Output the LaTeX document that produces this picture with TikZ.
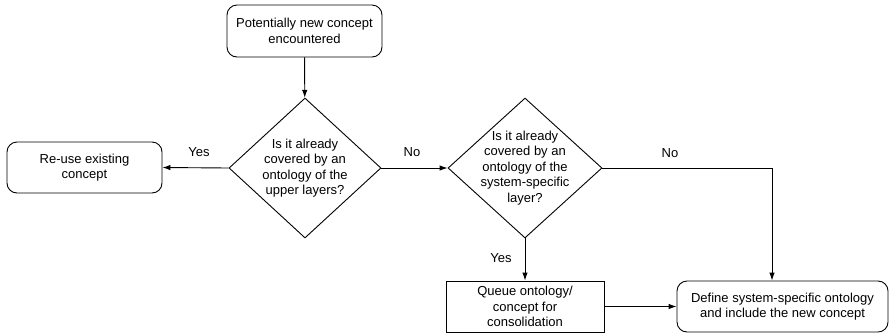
\documentclass[tikz,border=0pt]{standalone}
\usepackage{fontspec}
\setmainfont{Liberation Sans}
\usetikzlibrary{shapes.geometric,arrows.meta}
\begin{document}
\begin{tikzpicture}[x=1pt,y=-1pt,
  every node/.style={font=\fontsize{13}{15.5}\selectfont},
  rbox/.style={draw,rounded corners=10pt,line width=0.9pt,align=center,inner sep=0pt},
  sbox/.style={draw,line width=0.9pt,align=center,inner sep=0pt},
  dia/.style={draw,diamond,line width=0.9pt,inner sep=0pt},
  arr/.style={line width=0.9pt,-{Latex[length=8pt,width=5.5pt]}},
  lbl/.style={inner sep=0pt}]
\useasboundingbox (0,0) rectangle (890,333);
\node[rbox,minimum width=155,minimum height=52] (top) at (304.5,31) {Potentially new concept\\encountered};
\node[rbox,minimum width=155,minimum height=51] (reuse) at (84.5,167.5) {Re-use existing\\concept};
\node[dia,minimum width=152,minimum height=140,
  label={[align=center,font=\fontsize{13}{15.5}\selectfont]center:Is it already\\covered by an\\ontology of the\\upper layers?}] (d1) at (305,168) {};
\node[dia,minimum width=154,minimum height=140,
  label={[align=center,font=\fontsize{13}{15.5}\selectfont]center:Is it already\\covered by an\\ontology of the\\system-specific\\layer?}] (d2) at (525,168) {};
\node[sbox,minimum width=158,minimum height=51] (queue) at (525,306.5) {Queue ontology/\\concept for\\consolidation};
\node[rbox,minimum width=211,minimum height=51] (define) at (782.5,306.5) {Define system-specific ontology\\and include the new concept};
\coordinate (dtop) at ([xshift=-10.5pt]define.north);
\draw[arr] (top) -- (d1);
\draw[arr] (d1.west) -- (reuse.east);
\draw[arr] (d1.east) -- (d2.west);
\draw[arr] (d2.south) -- (queue.north);
\draw[arr] (d2.east) -| (dtop);
\draw[arr] (queue.east) -- (define.west);
\node[lbl] (ly1) at (199,152) {Yes};
\node[lbl] (ln1) at (412,152) {No};
\node[lbl] (ly2) at (501,258) {Yes};
\node[lbl] (ln2) at (670,153) {No};
\end{tikzpicture}
\end{document}
